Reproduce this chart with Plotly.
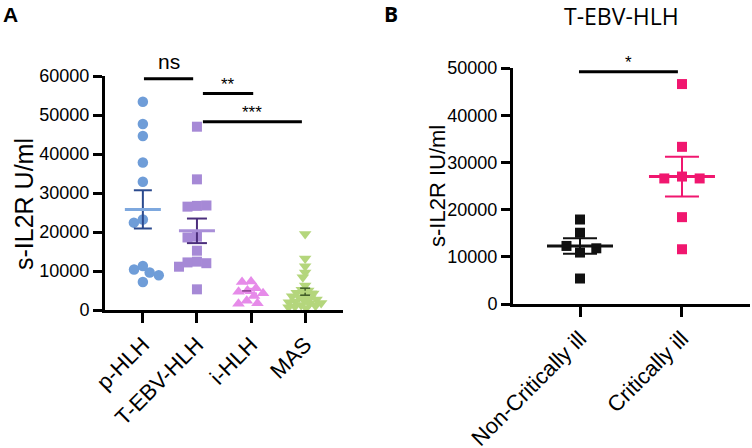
import math
import plotly.graph_objects as go

# ---------------- data ----------------
cats_a = ["p-HLH", "T-EBV-HLH", "i-HLH", "MAS"]
p_hlh = [53400, 47700, 44600, 37800, 32900, 23200, 22400, 11300, 10400, 9600, 8900, 7200]
t_ebv_hlh = [47000, 33500, 26700, 26500, 26800, 18800, 18600, 15200, 12400, 12200, 12000, 11100, 5300]
i_hlh = [7300, 7200, 5600, 5000, 4700, 4300, 3600, 2400, 1700, 1600]
mas = [19500, 13200, 11200, 9600, 8400, 6300, 5200, 5000, 4400, 4200, 3800, 3500, 3200, 3000,
       2700, 2400, 2200, 2000, 1800, 1600, 1300, 1100, 900, 700, 500]
means_a = [25800, 20300, 4900, 4700]
sems_a = [4900, 3150, 600, 900]
yticks_a = [0, 10000, 20000, 30000, 40000, 50000, 60000]
sig_a = [(0, 1, "ns"), (1, 2, "**"), (1, 3, "***")]

cats_b = ["Non-Critically ill", "Critically ill"]
non_critical = [17900, 15100, 10900, 12300, 11800, 5400]
critical = [46600, 33300, 27000, 26600, 26600, 18400, 11600]
means_b = [12300, 27000]
sems_b = [1650, 4200]
yticks_b = [0, 10000, 20000, 30000, 40000, 50000]
sig_b = [(0, 1, "*")]

# ---------------- geometry ----------------
W, H = 752, 448
A_X0, A_X1, A_Y0, A_Y1 = 105, 343, 310, 76
B_X0, B_X1, B_Y0, B_Y1 = 513, 750, 304, 68
A_RANGE = [-0.7, 3.7]
B_RANGE = [-0.657, 1.667]
A_YMAX, B_YMAX = 60000, 50000
A_CAT_PX = (A_X1 - A_X0) / (A_RANGE[1] - A_RANGE[0])
B_CAT_PX = (B_X1 - B_X0) / (B_RANGE[1] - B_RANGE[0])
A_VAL_PX = (A_Y0 - A_Y1) / A_YMAX
B_VAL_PX = (B_Y0 - B_Y1) / B_YMAX


def swarm(values, val_px, dx, dy):
    placed = []
    offs = []
    for v in values:
        y = v * val_px
        cands = [0.0]
        for px, py in placed:
            d = abs(y - py) / dy
            if d < 1:
                w = dx * math.sqrt(1 - d * d)
                cands += [px - w, px + w]
        cands.sort(key=lambda c: (round(abs(c), 3), c))
        chosen = 0.0
        for c in cands:
            if all(((c - px) / dx) ** 2 + ((y - py) / dy) ** 2 >= 0.999 for px, py in placed):
                chosen = c
                break
        placed.append((chosen, y))
        offs.append(chosen)
    return offs


fig = go.Figure()

groups_a = [
    dict(vals=p_hlh, sym="circle", size=10.5, col="#6f9dd8", mean_col="#7ea8de", err_col="#2b4a8e",
         mw=18, cw=9, dx=9.5, dy=9.5, mean_w=3, err_w=2),
    dict(vals=t_ebv_hlh, sym="square", size=10, col="#a689d6", mean_col="#a98fd8", err_col="#4b2e7c",
         mw=18, cw=10, dx=9.5, dy=9.5, mean_w=3, err_w=2),
    dict(vals=i_hlh, sym="triangle-up", size=11, col="#e68be9", mean_col="#8a3d8c", err_col="#e68be9",
         mw=9, cw=6, dx=9, dy=8, mean_w=1.5, err_w=1.5),
    dict(vals=mas, sym="triangle-down", size=11, col="#b4d67c", mean_col="#b4d67c", err_col="#3d5a26",
         mw=12, cw=5, dx=6.5, dy=5, mean_w=2, err_w=1.5),
]

for i, g in enumerate(groups_a):
    offs = swarm(g["vals"], A_VAL_PX, g["dx"], g["dy"])
    fig.add_trace(go.Scatter(
        x=[i + o / A_CAT_PX for o in offs], y=g["vals"], mode="markers",
        marker=dict(symbol=g["sym"], size=g["size"], color=g["col"], line=dict(width=0)),
        cliponaxis=False, xaxis="x", yaxis="y", showlegend=False, hoverinfo="y"))

for i, g in enumerate(groups_a):
    m, s = means_a[i], sems_a[i]
    mw, cw = g["mw"] / A_CAT_PX, g["cw"] / A_CAT_PX
    fig.add_trace(go.Scatter(
        x=[i - cw, i + cw, None, i, i, None, i - cw, i + cw],
        y=[m + s, m + s, None, m + s, m - s, None, m - s, m - s],
        mode="lines", line=dict(color=g["err_col"], width=g["err_w"]),
        xaxis="x", yaxis="y", showlegend=False, hoverinfo="skip"))
    fig.add_trace(go.Scatter(
        x=[i - mw, i + mw], y=[m, m], mode="lines",
        line=dict(color=g["mean_col"], width=g["mean_w"], dash="dash" if i == 2 else "solid"),
        xaxis="x", yaxis="y", showlegend=False, hoverinfo="skip"))

groups_b = [
    dict(vals=non_critical, col="#111111"),
    dict(vals=critical, col="#f0176f"),
]
for i, g in enumerate(groups_b):
    offs = swarm(g["vals"], B_VAL_PX, 18, 10)
    fig.add_trace(go.Scatter(
        x=[i + o / B_CAT_PX for o in offs], y=g["vals"], mode="markers",
        marker=dict(symbol="square", size=10, color=g["col"], line=dict(width=0)),
        cliponaxis=False, xaxis="x2", yaxis="y2", showlegend=False, hoverinfo="y"))
    m, s = means_b[i], sems_b[i]
    mw, cw = 33 / B_CAT_PX, 17 / B_CAT_PX
    fig.add_trace(go.Scatter(
        x=[i - cw, i + cw, None, i, i, None, i - cw, i + cw],
        y=[m + s, m + s, None, m + s, m - s, None, m - s, m - s],
        mode="lines", line=dict(color=g["col"], width=2),
        xaxis="x2", yaxis="y2", showlegend=False, hoverinfo="skip"))
    fig.add_trace(go.Scatter(
        x=[i - mw, i + mw], y=[m, m], mode="lines", line=dict(color=g["col"], width=3),
        xaxis="x2", yaxis="y2", showlegend=False, hoverinfo="skip"))

# significance brackets
sig_levels_a = [59300, 55500, 48300]
sig_ends_a = [(0.02, 0.93), (1.11, 2.04), (1.11, 2.94)]
sig_fonts_a = [21, 17, 17]
annotations = []
for (ga, gb, lab), lvl, (x0, x1), fs in zip(sig_a, sig_levels_a, sig_ends_a, sig_fonts_a):
    fig.add_trace(go.Scatter(x=[x0, x1], y=[lvl, lvl], mode="lines",
                             line=dict(color="black", width=3), cliponaxis=False,
                             xaxis="x", yaxis="y", showlegend=False, hoverinfo="skip"))
    annotations.append(dict(x=(x0 + x1) / 2, y=lvl, xref="x", yref="y", text=lab,
                            showarrow=False, yanchor="bottom", yshift=(4 if lab == "ns" else -2),
                            font=dict(family="Liberation Sans, Arial", size=fs, color="black")))
for (ga, gb, lab) in sig_b:
    lvl = 49200
    x0, x1 = -0.01, 0.96
    fig.add_trace(go.Scatter(x=[x0, x1], y=[lvl, lvl], mode="lines",
                             line=dict(color="black", width=3), cliponaxis=False,
                             xaxis="x2", yaxis="y2", showlegend=False, hoverinfo="skip"))
    annotations.append(dict(x=(x0 + x1) / 2, y=lvl, xref="x2", yref="y2", text=lab,
                            showarrow=False, yanchor="bottom", yshift=-2,
                            font=dict(family="Liberation Sans, Arial", size=17, color="black")))

# titles & labels
annotations += [
    dict(x=1 / W, y=1 - 1 / H, xref="paper", yref="paper", text="<b>A</b>", showarrow=False,
         xanchor="left", yanchor="top", font=dict(family="Liberation Sans, Arial", size=21, color="black")),
    dict(x=382 / W, y=1 - 14.5 / H, xref="paper", yref="paper", text="<b>B</b>", showarrow=False,
         xanchor="left", yanchor="middle", font=dict(family="Open Sans", size=21, color="black")),
    dict(x=621 / W, y=1 - 15.5 / H, xref="paper", yref="paper", text="T-EBV-HLH", showarrow=False,
         xanchor="center", yanchor="middle", font=dict(family="Open Sans", size=23, color="black")),
    dict(x=24 / W, y=1 - 204 / H, xref="paper", yref="paper", text="s-IL2R U/ml", showarrow=False,
         textangle=-90, xanchor="center", yanchor="middle",
         font=dict(family="Liberation Sans, Arial", size=25, color="black")),
    dict(x=437 / W, y=1 - 186 / H, xref="paper", yref="paper", text="s-IL2R IU/ml", showarrow=False,
         textangle=-90, xanchor="center", yanchor="middle",
         font=dict(family="Liberation Sans, Arial", size=22, color="black")),
]

tickfont_y = dict(family="Liberation Sans, Arial", size=18, color="black")
tickfont_x = dict(family="Liberation Sans, Arial", size=22, color="black")
common_x = dict(showline=True, linewidth=3, linecolor="black", ticks="outside", ticklen=10,
                tickwidth=3, tickcolor="black", showgrid=False, zeroline=False, tickangle=-45,
                tickfont=tickfont_x, fixedrange=True, automargin=False)
common_y = dict(showline=True, linewidth=3, linecolor="black", ticks="outside", ticklen=9,
                tickwidth=2.5, tickcolor="black", showgrid=False, zeroline=False,
                tickfont=tickfont_y, fixedrange=True, automargin=False)

fig.update_layout(
    template="none",
    width=W, height=H, autosize=False,
    margin=dict(l=0, r=0, t=0, b=0, pad=0, autoexpand=False),
    paper_bgcolor="white", plot_bgcolor="white",
    xaxis=dict(domain=[A_X0 / W, A_X1 / W], range=A_RANGE, anchor="y",
               tickvals=list(range(len(cats_a))), ticktext=cats_a, **common_x),
    yaxis=dict(domain=[1 - A_Y0 / H, 1 - A_Y1 / H], range=[0, A_YMAX], anchor="x",
               tickvals=yticks_a, ticktext=[str(v) for v in yticks_a], **common_y),
    xaxis2=dict(domain=[B_X0 / W, B_X1 / W], range=B_RANGE, anchor="y2",
                tickvals=list(range(len(cats_b))), ticktext=cats_b, **common_x),
    yaxis2=dict(domain=[1 - B_Y0 / H, 1 - B_Y1 / H], range=[0, B_YMAX], anchor="x2",
                tickvals=yticks_b, ticktext=[str(v) for v in yticks_b], **common_y),
    annotations=annotations,
    showlegend=False,
)

fig.write_html("out.html", config={"displayModeBar": False},
               post_script="document.body.style.margin='0px';document.body.style.padding='0px';")
